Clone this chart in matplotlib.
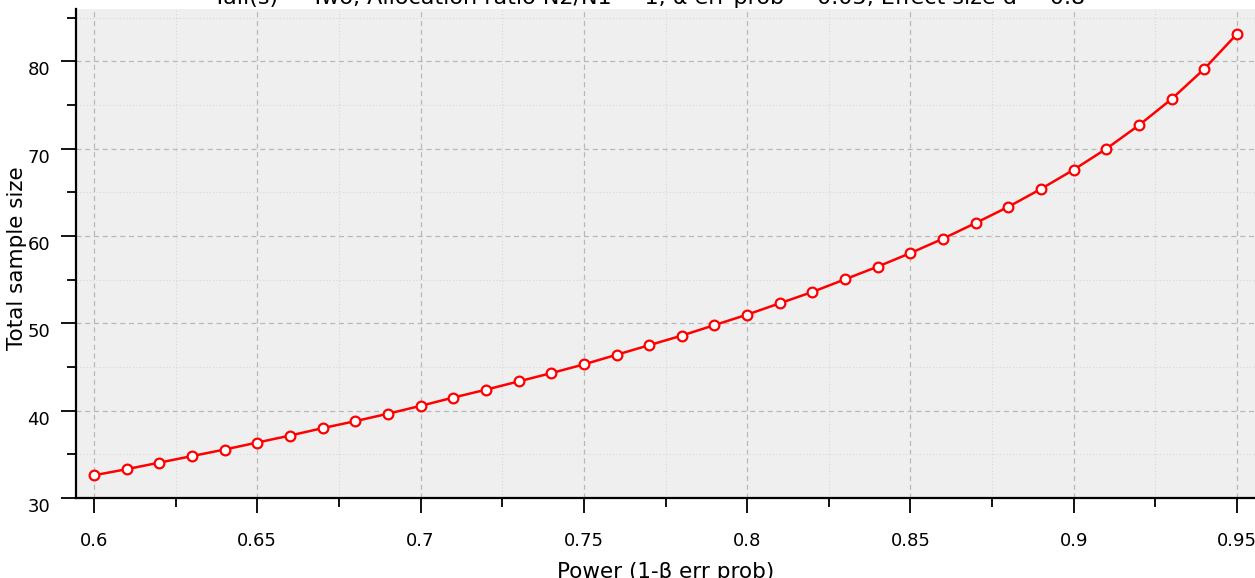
import matplotlib
matplotlib.use("Agg")
import matplotlib.pyplot as plt
from matplotlib.ticker import MultipleLocator, FuncFormatter

VERM = "#ff0000"
FUNDO = "#efefef"

# Poder (1-beta) e tamanho total da amostra
poder = [0.60, 0.61, 0.62, 0.63, 0.64, 0.65, 0.66, 0.67, 0.68, 0.69,
         0.70, 0.71, 0.72, 0.73, 0.74, 0.75, 0.76, 0.77, 0.78, 0.79,
         0.80, 0.81, 0.82, 0.83, 0.84, 0.85, 0.86, 0.87, 0.88, 0.89,
         0.90, 0.91, 0.92, 0.93, 0.94, 0.95]
n_total = [32.6, 33.3, 34.05, 34.8, 35.55, 36.35, 37.15, 38.0, 38.8, 39.65,
           40.55, 41.5, 42.4, 43.35, 44.3, 45.3, 46.4, 47.5, 48.6, 49.8,
           51.0, 52.3, 53.6, 55.05, 56.5, 58.05, 59.7, 61.5, 63.35, 65.4,
           67.6, 70.0, 72.7, 75.7, 79.15, 83.15]

titulo = "Tail(s) = Two, Allocation ratio N2/N1 = 1, α err prob = 0.05, Effect size d = 0.8"

W, H = 1255, 578
fig = plt.figure(figsize=(W / 100, H / 100), dpi=100)
ax = fig.add_axes([76 / W, 1 - 498 / H, (W - 76) / W, (498 - 9) / H])
ax.set_facecolor(FUNDO)

ax.plot(poder, n_total, "o-", color=VERM, lw=1.8, ms=7, mfc="white",
        mec=VERM, mew=1.6, zorder=3)

ax.set_xlim(0.5945, 0.9555)
ax.set_ylim(30, 86)

ax.xaxis.set_major_locator(MultipleLocator(0.05))
ax.xaxis.set_minor_locator(MultipleLocator(0.025))
ax.yaxis.set_major_locator(MultipleLocator(10))
ax.yaxis.set_minor_locator(MultipleLocator(5))
ax.xaxis.set_major_formatter(FuncFormatter(lambda v, p: f"{v:g}"))

ax.grid(True, which="major", ls=(0, (4, 3)), color="#b8b8b8", lw=0.9)
ax.grid(True, which="minor", ls=(0, (1, 2)), color="#d6d6d6", lw=0.8)
ax.set_axisbelow(True)

for lado in ("top", "right"):
    ax.spines[lado].set_visible(False)
for lado in ("left", "bottom"):
    ax.spines[lado].set_linewidth(1.6)

ax.tick_params(axis="both", which="major", length=10.5, width=1.3, labelsize=13)
ax.tick_params(axis="both", which="minor", length=6.5, width=1.3)
ax.tick_params(axis="x", which="major", pad=14)
ax.tick_params(axis="y", which="major", pad=8)
for lbl in ax.get_yticklabels():
    lbl.set_verticalalignment("top")

ax.set_xlabel("Power (1-β err prob)", fontsize=15.5)
ax.xaxis.set_label_coords(0.5, -0.131)
ax.set_ylabel("Total sample size", fontsize=15.5)
ax.yaxis.set_label_coords(-0.0416, 0.491)

fig.text(649 / W, 1 - 4 / H, titulo, ha="center", va="baseline", fontsize=16)

fig.savefig("out.png", dpi=100)
